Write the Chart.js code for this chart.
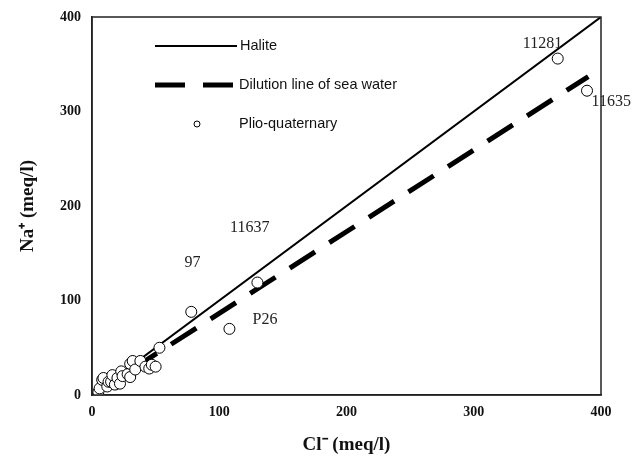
<!DOCTYPE html>
<html><head><meta charset="utf-8">
<script src="https://cdn.jsdelivr.net/npm/chart.js@4"></script>
<style>html,body{margin:0;padding:0;background:#fff}#wrap{width:641px;height:460px}</style>
</head><body><div id="wrap"><canvas id="c" width="641" height="460"></canvas></div>
<script>
const xTicks = [0, 100, 200, 300, 400];
const yTicks = [0, 100, 200, 300, 400];
const sampleCl = [5, 6, 8, 9, 12, 13, 15, 16, 18, 20, 22, 23, 24, 28, 30, 30, 32, 34, 38, 42, 45, 47, 50, 53, 78, 108, 130, 366, 389];
const sampleNa = [3, 7, 16, 18, 9, 14, 14, 21, 11, 18, 12, 25, 20, 22, 19, 33, 36, 27, 36, 30, 28, 32, 30, 50, 88, 70, 119, 356, 322];
const haliteCl = [0, 400];
const haliteNa = [0, 400];
const dilutionCl = [0, 390];
const dilutionNa = [0, 337];
const labelNames = ['11281', '11635', '11637', '97', 'P26'];
const labelCl = [354, 408, 124, 79, 136];
const labelNa = [372, 310, 177, 140, 80];
const legendNames = ['Halite', 'Dilution line of sea water', 'Plio-quaternary'];

const toPts = (xs, ys) => xs.map((x, i) => ({x: x, y: ys[i]}));

const overlay = {
  id: 'overlay',
  afterDraw(chart) {
    const ctx = chart.ctx, a = chart.chartArea;
    const xs = chart.scales.x, ys = chart.scales.y;
    ctx.save();
    ctx.strokeStyle = '#222';
    ctx.lineWidth = 1.5;
    ctx.strokeRect(a.left, a.top, a.right - a.left, a.bottom - a.top);
    // point labels
    ctx.fillStyle = '#222';
    ctx.font = '16px "Liberation Serif", serif';
    ctx.textAlign = 'center';
    ctx.textBaseline = 'middle';
    labelNames.forEach((n, i) => {
      ctx.fillText(n, xs.getPixelForValue(labelCl[i]), ys.getPixelForValue(labelNa[i]));
    });
    // legend
    const lx0 = a.left + 63, lx1 = a.left + 145;
    const ly = [a.top + 29, a.top + 68, a.top + 107];
    ctx.strokeStyle = '#000';
    ctx.lineWidth = 2;
    ctx.beginPath(); ctx.moveTo(lx0, ly[0]); ctx.lineTo(lx1, ly[0]); ctx.stroke();
    ctx.lineWidth = 5;
    ctx.beginPath(); ctx.moveTo(lx0, ly[1]); ctx.lineTo(lx0 + 30, ly[1]); ctx.stroke();
    ctx.beginPath(); ctx.moveTo(lx0 + 48, ly[1]); ctx.lineTo(lx0 + 78, ly[1]); ctx.stroke();
    ctx.lineWidth = 1;
    ctx.beginPath(); ctx.arc(lx0 + 42, ly[2], 3, 0, Math.PI * 2); ctx.stroke();
    ctx.font = '14.5px "Liberation Sans", Arial, sans-serif';
    ctx.textAlign = 'left';
    ctx.fillStyle = '#111';
    ctx.fillText(legendNames[0], lx1 + 3, ly[0]);
    ctx.fillText(legendNames[1], lx0 + 84, ly[1]);
    ctx.fillText(legendNames[2], lx0 + 84, ly[2]);
    ctx.restore();
  }
};

new Chart(document.getElementById('c'), {
  type: 'scatter',
  data: {
    datasets: [
      {
        label: legendNames[2],
        data: toPts(sampleCl, sampleNa),
        pointRadius: 5.5,
        pointBackgroundColor: '#fff',
        pointBorderColor: '#000',
        pointBorderWidth: 1,
        order: 0
      },
      {
        label: legendNames[0],
        type: 'line',
        data: toPts(haliteCl, haliteNa),
        borderColor: '#000',
        borderWidth: 2,
        pointRadius: 0,
        fill: false,
        order: 2
      },
      {
        label: legendNames[1],
        type: 'line',
        data: toPts(dilutionCl, dilutionNa),
        borderColor: '#000',
        borderWidth: 5,
        borderDash: [30, 17],
        pointRadius: 0,
        fill: false,
        order: 1
      }
    ]
  },
  options: {
    responsive: false,
    animation: false,
    devicePixelRatio: 1,
    layout: {padding: {left: 13, right: 40, top: 17, bottom: 0}},
    plugins: {legend: {display: false}, tooltip: {enabled: false}},
    scales: {
      x: {
        type: 'linear', min: 0, max: 400,
        afterBuildTicks: s => { s.ticks = xTicks.map(v => ({value: v})); },
        afterFit: s => { s.height = 65; },
        grid: {display: false, drawTicks: true, tickLength: 5, color: '#222'},
        border: {display: true, color: '#222', width: 1.5},
        ticks: {color: '#111', font: {family: '"Liberation Serif", serif', size: 14, weight: 'bold'}, padding: 4},
        title: {display: true, text: 'Cl\u207B (meq/l)', color: '#111', font: {family: '"Liberation Serif", serif', size: 19, weight: 'bold'}, padding: {top: 6}}
      },
      y: {
        type: 'linear', min: 0, max: 400,
        afterBuildTicks: s => { s.ticks = yTicks.map(v => ({value: v})); },
        afterFit: s => { s.width = 79; },
        grid: {display: false, drawTicks: true, tickLength: 5, color: '#222'},
        border: {display: true, color: '#222', width: 1.5},
        ticks: {color: '#111', font: {family: '"Liberation Serif", serif', size: 14, weight: 'bold'}, padding: 6},
        title: {display: true, text: 'Na\u207A (meq/l)', color: '#111', font: {family: '"Liberation Serif", serif', size: 19, weight: 'bold'}, padding: {bottom: 6}}
      }
    }
  },
  plugins: [overlay]
});
</script></body></html>
